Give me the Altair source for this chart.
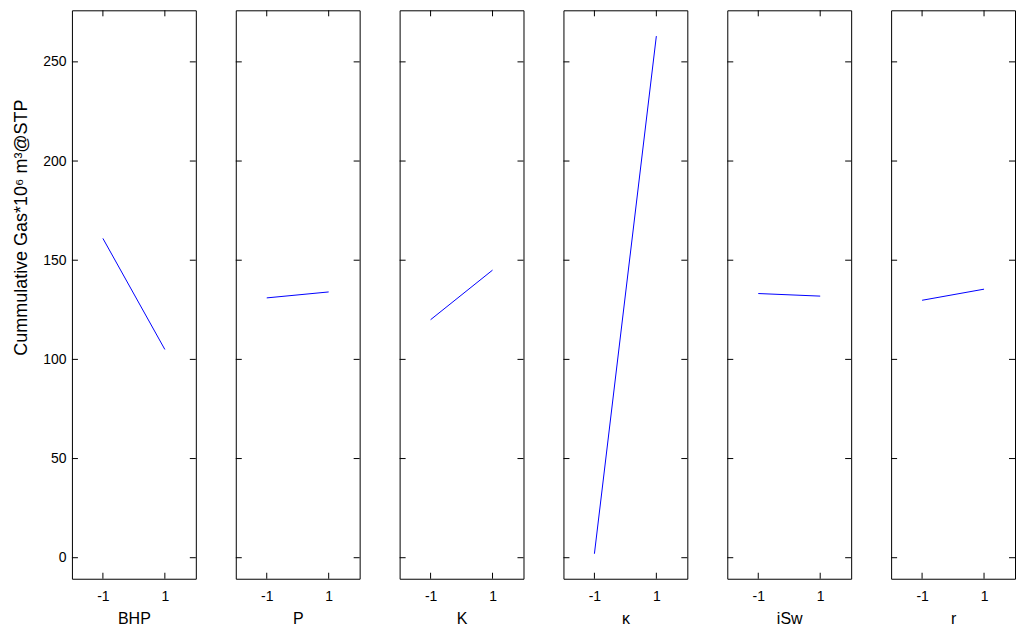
import altair as alt
import pandas as pd

factors = ["BHP", "P", "K", "κ", "iSw", "r"]
levels = [-1, 1]
low_values = [161.0, 131.0, 120.0, 2.0, 133.2, 129.8]
high_values = [105.0, 134.0, 145.0, 263.0, 131.9, 135.4]
y_ticks = [0, 50, 100, 150, 200, 250]
x_ticks = [-1, 1]

W, H = 124, 569
FONT = "Liberation Sans"
ys = alt.Scale(domain=[-10.6, 276], nice=False, zero=False)
xs = alt.Scale(domain=[-2, 2], nice=False, zero=False)

ytick_df = pd.DataFrame({"v": y_ticks})
xtick_df = pd.DataFrame({"u": x_ticks})

panels = []
for i, f in enumerate(factors):
    df = pd.DataFrame({"x": levels, "y": [low_values[i], high_values[i]]})
    x_axis = alt.Axis(values=x_ticks, title=f, tickSize=0, domain=False,
                      labelExpr="(datum.value < 0 ? '-' : '') + abs(datum.value)",
                      grid=False, labelFont=FONT, labelFontSize=14, labelColor="black",
                      labelPadding=11, titleFont=FONT, titleFontSize=16,
                      titleFontWeight="normal", titleColor="black", titlePadding=7)
    if i == 0:
        y_axis = alt.Axis(values=y_ticks, title="Cummulative Gas*10⁶ m³@STP", tickSize=0,
                          domain=False, grid=False, labelFont=FONT, labelFontSize=14,
                          labelColor="black", labelPadding=6, titleFont=FONT,
                          titleFontSize=18, titleFontWeight="normal", titleColor="black",
                          titlePadding=12, titleY=217)
    else:
        y_axis = None
    line = alt.Chart(df).mark_line(color="#0000ff", strokeWidth=1).encode(
        x=alt.X("x:Q", scale=xs, axis=x_axis),
        y=alt.Y("y:Q", scale=ys, axis=y_axis),
    )
    lt = alt.Chart(ytick_df).mark_rule(color="black").encode(
        y=alt.Y("v:Q", scale=ys, axis=y_axis), x=alt.value(0), x2=alt.value(6))
    rt = alt.Chart(ytick_df).mark_rule(color="black").encode(
        y=alt.Y("v:Q", scale=ys, axis=y_axis), x=alt.value(W - 6), x2=alt.value(W))
    tt = alt.Chart(xtick_df).mark_rule(color="black").encode(
        x=alt.X("u:Q", scale=xs, axis=x_axis), y=alt.value(0), y2=alt.value(6))
    bt = alt.Chart(xtick_df).mark_rule(color="black").encode(
        x=alt.X("u:Q", scale=xs, axis=x_axis), y=alt.value(H - 6), y2=alt.value(H))
    panels.append(alt.layer(lt, rt, tt, bt, line).properties(width=W, height=H))

chart = alt.hconcat(*panels, spacing=38).properties(
    padding={"left": 4, "top": 1, "right": 0, "bottom": 0},
    background="white",
).configure_view(stroke="black", strokeWidth=1)

chart.save("out.html", embed_options={"renderer": "svg", "actions": False})
